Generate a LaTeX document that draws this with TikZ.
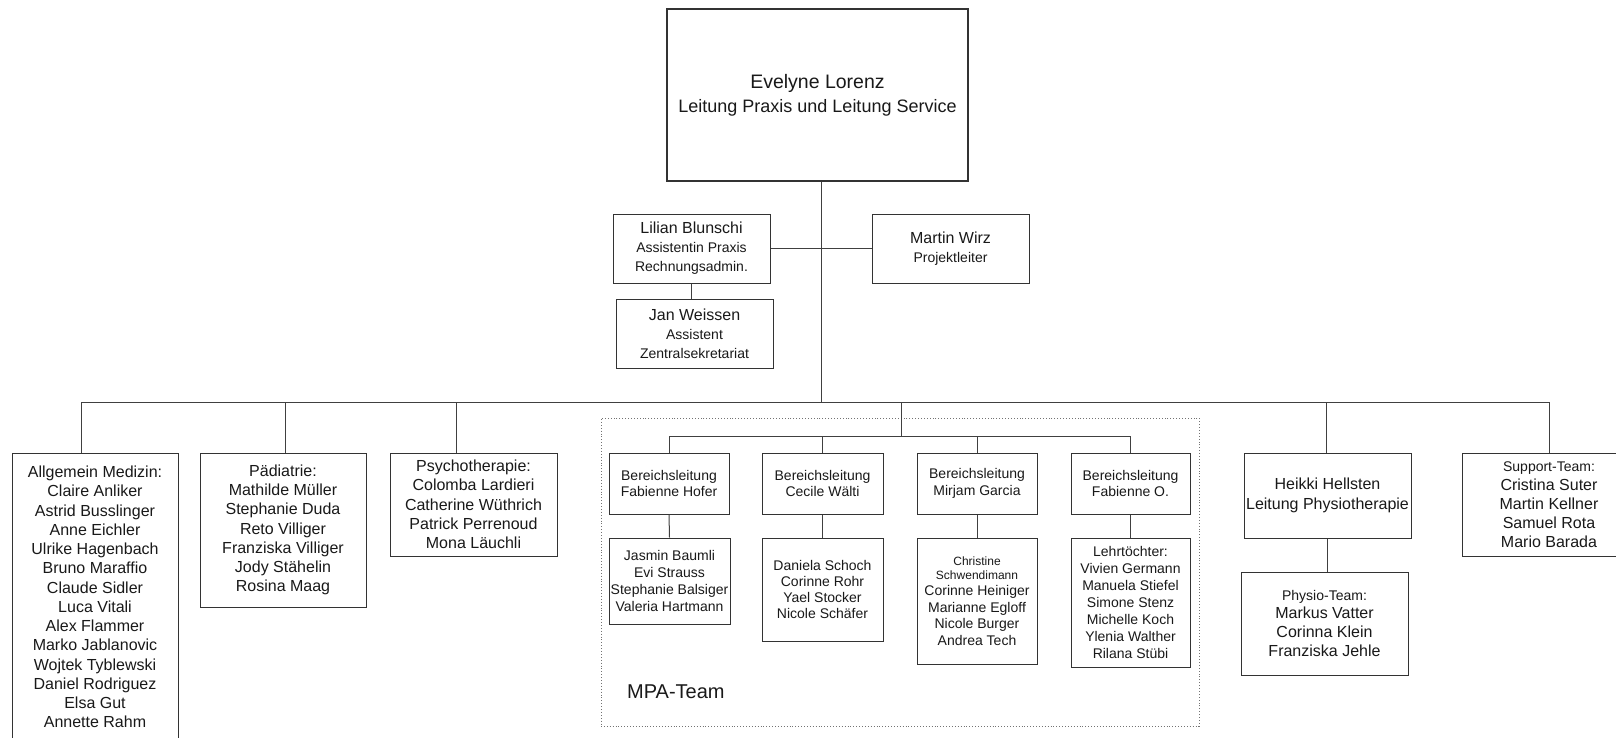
\documentclass[tikz,border=0pt]{standalone}
\usepackage{fontspec}
\setmainfont{Liberation Sans}
\newcommand\fsz[2]{\fontsize{#1}{#2}\selectfont}
\tikzset{
  box/.style={draw=black!80, line width=1pt, fill=white, inner sep=0pt, align=center, text=black!90},
  conn/.style={draw=black!75, line width=1pt},
  frame/.style={draw=black!55, dotted, line width=0.9pt, inner sep=0pt}
}
\begin{document}
\begin{tikzpicture}[x=1pt,y=-1pt]
\useasboundingbox (0,0) rectangle (1616,738);
% top
\node[box, line width=2.2pt, minimum width=301, minimum height=172, font=\fsz{18}{24}] (top) at (817.5,95)
  {{\fsz{19.5}{24}Evelyne Lorenz}\\Leitung Praxis und Leitung Service};
\node[box, minimum width=157, minimum height=69, font=\fsz{14}{19}] (lil) at (691.5,248.5)
  {{\fsz{16}{19}Lilian Blunschi}\\Assistentin Praxis\\Rechnungsadmin.};
\node[box, minimum width=157, minimum height=69, font=\fsz{14}{19}] (mar) at (950.5,248.5)
  {{\fsz{16}{19}Martin Wirz}\\Projektleiter};
\node[box, minimum width=157, minimum height=69, font=\fsz{14}{19}] (jan) at (694.5,333.5)
  {{\fsz{16}{19}Jan Weissen}\\Assistent\\Zentralsekretariat};
% MPA frame
\node[frame, minimum width=598, minimum height=308] (mpa) at (900,572) {};
\node[anchor=west, inner sep=0pt, font=\fsz{20}{24}, text=black!90] (mpal) at (627,692) {MPA-Team};
% departments
\node[box, minimum width=166, minimum height=288, font=\fsz{16}{19.25}] (allg) at (95,597)
  {Allgemein Medizin:\\Claire Anliker\\Astrid Busslinger\\Anne Eichler\\Ulrike Hagenbach\\Bruno Maraffio\\Claude Sidler\\Luca Vitali\\Alex Flammer\\Marko Jablanovic\\Wojtek Tyblewski\\Daniel Rodriguez\\Elsa Gut\\Annette Rahm};
\node[box, minimum width=166, minimum height=154, font=\fsz{16}{19.2}] (paed) at (283,530)
  {Pädiatrie:\\Mathilde Müller\\Stephanie Duda\\Reto Villiger\\Franziska Villiger\\Jody Stähelin\\Rosina Maag};
\node[box, minimum width=167, minimum height=103, font=\fsz{16}{19.3}] (psy) at (473.5,504.5)
  {Psychotherapie:\\Colomba Lardieri\\Catherine Wüthrich\\Patrick Perrenoud\\Mona Läuchli};
% MPA boxes
\node[box, minimum width=120, minimum height=61, font=\fsz{14}{16.7}] (b1) at (669,483.5) {Bereichsleitung\\Fabienne Hofer};
\node[box, minimum width=121, minimum height=61, font=\fsz{14}{16.7}] (b2) at (822.5,483.5) {Bereichsleitung\\Cecile Wälti};
\node[box, minimum width=120, minimum height=61, font=\fsz{14}{16.7}] (b3) at (977,483.5) {Bereichsleitung\\Mirjam Garcia};
\node[box, minimum width=119, minimum height=61, font=\fsz{14}{16.7}] (b4) at (1130.5,483.5) {Bereichsleitung\\Fabienne O.};
\node[box, minimum width=121, minimum height=86, font=\fsz{14}{17}] (s1) at (669.5,581)
  {Jasmin Baumli\\Evi Strauss\\Stephanie Balsiger\\Valeria Hartmann};
\node[box, minimum width=121, minimum height=103, font=\fsz{14}{16.3}] (s2) at (822.5,589.5)
  {Daniela Schoch\\Corinne Rohr\\Yael Stocker\\Nicole Schäfer};
\node[box, minimum width=120, minimum height=126, font=\fsz{14}{16.5}] (s3) at (977,601)
  {{\fsz{12}{14}Christine}\\[-2.5pt]{\fsz{12}{14}Schwendimann}\\Corinne Heiniger\\Marianne Egloff\\Nicole Burger\\Andrea Tech};
\node[box, minimum width=119, minimum height=129, font=\fsz{14}{16.9}] (s4) at (1130.5,602.5)
  {Lehrtöchter:\\Vivien Germann\\Manuela Stiefel\\Simone Stenz\\Michelle Koch\\Ylenia Walther\\Rilana Stübi};
% right side
\node[box, minimum width=167, minimum height=85, font=\fsz{16}{20}] (hei) at (1327.5,495.5)
  {Heikki Hellsten\\Leitung Physiotherapie};
\node[box, minimum width=167, minimum height=103, font=\fsz{16}{19}] (phy) at (1324.5,623.5)
  {{\fsz{14}{19}Physio-Team:}\\[-1pt]Markus Vatter\\Corinna Klein\\Franziska Jehle};
\node[box, minimum width=174, minimum height=103, font=\fsz{16}{19}] (sup) at (1549,504.5)
  {{\fsz{14}{19}Support-Team:}\\Cristina Suter\\Martin Kellner\\Samuel Rota\\Mario Barada};
% coordinates
\coordinate (j0) at (821,402);
\coordinate (bl) at (81,402);
\coordinate (br) at (1549,402);
\coordinate (d2) at (285,402);
\coordinate (d3) at (456,402);
\coordinate (m0) at (901,402);
\coordinate (m1) at (901,436);
\coordinate (d5) at (1326,402);
% connectors
\draw[conn] (top.south -| j0) -- (j0);
\draw[conn] (lil.east) -- (mar.west);
\draw[conn] (lil.south) -- (lil.south |- jan.north);
\draw[conn] (bl) -- (br);
\draw[conn] (bl) -- (bl |- allg.north);
\draw[conn] (d2) -- (d2 |- paed.north);
\draw[conn] (d3) -- (d3 |- psy.north);
\draw[conn] (m0) -- (m1);
\draw[conn] (d5) -- (d5 |- hei.north);
\draw[conn] (br) -- (br |- sup.north);
\draw[conn] (b1.north |- m1) -- (b4.north |- m1);
\foreach \b in {b1,b2,b3,b4} \draw[conn] (\b.north |- m1) -- (\b.north);
\draw[conn] (b1.south) -- (s1.north);
\draw[conn] (b2.south) -- (s2.north);
\draw[conn] (b3.south) -- (s3.north);
\draw[conn] (b4.south) -- (s4.north);
\draw[conn] (hei.south) -- (hei.south |- phy.north);
\end{tikzpicture}
\end{document}
